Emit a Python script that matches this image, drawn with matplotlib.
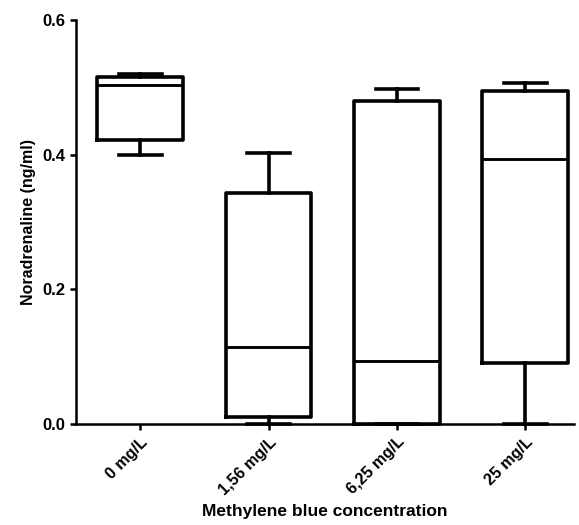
import matplotlib
matplotlib.use("Agg")
import matplotlib.pyplot as plt

categories = ["0 mg/L", "1,56 mg/L", "6,25 mg/L", "25 mg/L"]
whislo = [0.400, 0.0, 0.0, 0.0]
q1 = [0.422, 0.011, 0.0, 0.091]
med = [0.503, 0.114, 0.094, 0.394]
q3 = [0.515, 0.3435, 0.480, 0.494]
whishi = [0.520, 0.403, 0.497, 0.507]
yticks = [0.0, 0.2, 0.4, 0.6]

plt.rcParams['font.family'] = ['Liberation Sans', 'DejaVu Sans']
plt.rcParams['font.weight'] = 'bold'

fig = plt.figure(figsize=(5.79, 5.25), dpi=100)
ax = fig.add_axes([76/579, 1-424/525, (574-76)/579, (424-20)/525])

stats = []
for i, c in enumerate(categories):
    stats.append(dict(label=c, whislo=whislo[i], q1=q1[i], med=med[i],
                      q3=q3[i], whishi=whishi[i], fliers=[]))

lw = 2.6
ax.bxp(stats, positions=range(len(categories)), widths=0.667,
       capwidths=0.333, showfliers=False, patch_artist=False,
       boxprops=dict(color='black', linewidth=lw),
       whiskerprops=dict(color='black', linewidth=lw),
       capprops=dict(color='black', linewidth=lw),
       medianprops=dict(color='black', linewidth=lw*0.8))
for art in ax.lines:
    art.set_clip_on(False)

ax.set_xlim(-0.5, 3.38)
ax.set_ylim(0, 0.6)
ax.set_yticks(yticks)
ax.set_yticklabels([f"{v:.1f}" for v in yticks], fontsize=12, fontweight='bold')
ax.set_xticks(range(len(categories)))
ax.set_xticklabels(categories, rotation=45, ha='right', rotation_mode='anchor',
                   fontsize=11.5, fontweight='bold')
for s in ['top', 'right']:
    ax.spines[s].set_visible(False)
for s in ['left', 'bottom']:
    ax.spines[s].set_linewidth(1.8)
ax.tick_params(axis='both', width=1.8, length=4.5, pad=3)
ax.set_ylabel("Noradrenaline (ng/ml)", fontsize=11.5, fontweight='bold', labelpad=5)
ax.set_xlabel("Methylene blue concentration", fontsize=12.5, fontweight='bold', labelpad=5)

fig.savefig("out.png", dpi=100)
